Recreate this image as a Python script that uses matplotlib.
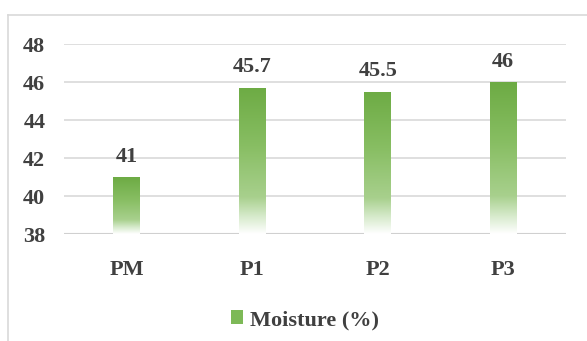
import matplotlib
matplotlib.use("Agg")
import matplotlib.pyplot as plt
import numpy as np
from matplotlib.colors import LinearSegmentedColormap
from matplotlib.patches import Patch
from matplotlib.lines import Line2D

categories = ["PM", "P1", "P2", "P3"]
moisture = [41, 45.7, 45.5, 46]
value_labels = ["41", "45.7", "45.5", "46"]
yticks = [38, 40, 42, 44, 46, 48]
series_name = "Moisture (%)"

W, H = 587, 341
fig = plt.figure(figsize=(W / 100, H / 100), dpi=100)
ax = fig.add_axes([64 / W, 1 - 234 / H, (566 - 64) / W, (234 - 44) / H])

font = dict(family="Liberation Serif", weight="bold", color="#404040")
txt = "#404040"
grid = "#D9D9D9"

x = np.arange(len(categories))
width = 0.215
bars = ax.bar(x, [v - 38 for v in moisture], bottom=38, width=width,
              color="none", edgecolor="none", zorder=3)

cmap = LinearSegmentedColormap.from_list(
    "g", [(0.0, "#FFFFFF"), (0.12, "#D6EACB"), (0.25, "#A8D08D"),
          (0.6, "#88BE63"), (1.0, "#6DAB44")])
grad = np.linspace(0, 1, 256).reshape(-1, 1)
for b in bars:
    x0, y0 = b.get_x(), b.get_y()
    w, h = b.get_width(), b.get_height()
    im = ax.imshow(grad, cmap=cmap, origin="lower", aspect="auto",
                   extent=[x0, x0 + w, y0, y0 + h], zorder=3)
    im.set_clip_path(b)

for xi, v, lab in zip(x, moisture, value_labels):
    ax.text(xi, v + 0.55, lab, ha="center", va="bottom", fontsize=16, **font)

ax.set_xlim(-0.5, len(categories) - 0.5)
ax.set_ylim(38, 48)
ax.set_yticks(yticks)
ax.set_yticklabels([str(t) for t in yticks], fontsize=16, **font)
ax.set_xticks(x)
ax.set_xticklabels(categories, fontsize=16, **font)
ax.tick_params(length=0, pad=13.5, axis="y")
ax.tick_params(length=0, pad=19, axis="x")
for s in ax.spines.values():
    s.set_visible(False)
ax.grid(axis="y", color=grid, linewidth=1.2, zorder=0)
ax.set_axisbelow(True)
ax.axhline(38, color="#D0D0D0", linewidth=1.5, zorder=2)

# outer chart border (left and top visible)
fig.add_artist(Line2D([8 / W, 8 / W], [0, 1 - 15 / H], color=grid, linewidth=1.2))
fig.add_artist(Line2D([8 / W, 1], [1 - 15 / H, 1 - 15 / H], color=grid, linewidth=1.2))

handle = Patch(facecolor="#7DB957", edgecolor="none")
leg = fig.legend([handle], [series_name], loc="center",
                 bbox_to_anchor=(305 / W, 1 - 320 / H), frameon=False,
                 handlelength=0.55, handleheight=0.55, handletextpad=0.35,
                 prop=dict(family="Liberation Serif", weight="bold", size=16))
for t in leg.get_texts():
    t.set_color(txt)

fig.savefig("out.png", dpi=100)
